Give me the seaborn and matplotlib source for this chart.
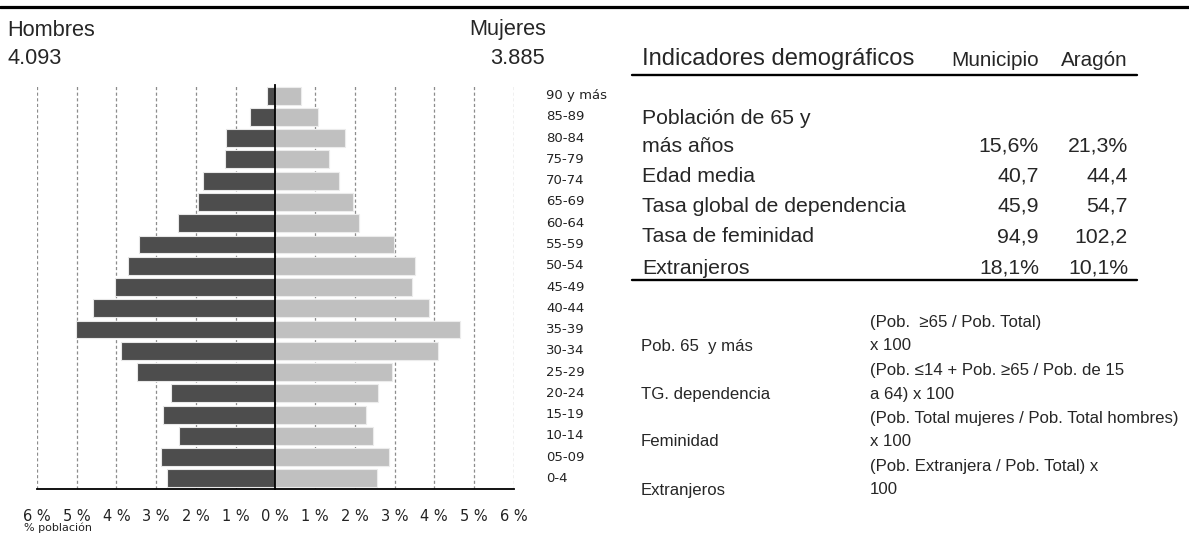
import numpy as np
import pandas as pd
import matplotlib
matplotlib.use("Agg")
import matplotlib.pyplot as plt
from matplotlib.lines import Line2D
import seaborn as sns

# ---------------- data ----------------
ages = ["90 y más", "85-89", "80-84", "75-79", "70-74", "65-69", "60-64", "55-59",
        "50-54", "45-49", "40-44", "35-39", "30-34", "25-29", "20-24", "15-19",
        "10-14", "05-09", "0-4"]
hombres_pct = [0.20, 0.65, 1.24, 1.28, 1.83, 1.94, 2.44, 3.42, 3.70, 4.04, 4.58,
               5.03, 3.88, 3.48, 2.62, 2.82, 2.42, 2.87, 2.73]
mujeres_pct = [0.65, 1.08, 1.75, 1.36, 1.59, 1.95, 2.11, 2.99, 3.52, 3.43, 3.88,
               4.66, 4.10, 2.94, 2.59, 2.28, 2.45, 2.87, 2.57]
x_ticks = [-6, -5, -4, -3, -2, -1, 0, 1, 2, 3, 4, 5, 6]
x_ticklabels = ["6 %", "5 %", "4 %", "3 %", "2 %", "1 %", "0 %", "1 %", "2 %",
                "3 %", "4 %", "5 %", "6 %"]
hombres_total = "4.093"
mujeres_total = "3.885"

table_title = "Indicadores demográficos"
table_cols = ["Municipio", "Aragón"]
ind_labels = ["Población de 65 y\nmás años", "Edad media", "Tasa global de dependencia",
              "Tasa de feminidad", "Extranjeros"]
ind_municipio = ["15,6%", "40,7", "45,9", "94,9", "18,1%"]
ind_aragon = ["21,3%", "44,4", "54,7", "102,2", "10,1%"]

def_labels = ["Pob. 65  y más", "TG. dependencia", "Feminidad", "Extranjeros"]
def_formulas = [("(Pob.  \u226565 / Pob. Total)", "x 100"),
                ("(Pob. \u226414 + Pob. \u226565 / Pob. de 15", "a 64) x 100"),
                ("(Pob. Total mujeres / Pob. Total hombres)", "x 100"),
                ("(Pob. Extranjera / Pob. Total) x", "100")]

# ---------------- style ----------------
sns.set_style("white")
plt.rcParams["font.family"] = ["Liberation Sans", "DejaVu Sans"]
small_font = ["DejaVu Sans"]

W, H = 1189, 533
fig = plt.figure(figsize=(W / 100, H / 100), dpi=100)
fig.patch.set_facecolor("white")

def fx(x):
    return x / W

def fy(y):
    return 1 - y / H

# pyramid axes
ax_l, ax_r, ax_t, ax_b = 37, 513.7, 85, 489
ax = fig.add_axes([fx(ax_l), fy(ax_b), (ax_r - ax_l) / W, (ax_b - ax_t) / H])

dark = "#4d4d4d"
light = "#c0c0c0"
df = pd.DataFrame({"edad": ages,
                   "hombres": [-v for v in hombres_pct],
                   "mujeres": mujeres_pct})
sns.barplot(data=df, x="hombres", y="edad", orient="h", color=dark, saturation=1,
            width=0.84, edgecolor="#e8e8e8", linewidth=0.8, ax=ax, zorder=2)
sns.barplot(data=df, x="mujeres", y="edad", orient="h", color=light, saturation=1,
            width=0.84, edgecolor="#ececec", linewidth=0.8, ax=ax, zorder=2)

ax.set_xlim(-6, 6)
ax.set_ylim(len(ages) - 0.5, -0.5)
ax.set_xlabel("")
ax.set_ylabel("")

ax.set_xticks(x_ticks)
ax.set_xticklabels(x_ticklabels, fontfamily=small_font, fontsize=10.5, color="#222222")
ax.tick_params(axis="x", direction="out", length=4, width=1, pad=10.5, color="black")
ax.set_yticks(np.arange(-0.5, len(ages), 0.5))
ax.set_yticklabels([])
ax.tick_params(axis="y", direction="out", length=3, width=1, color="black")

ax.xaxis.grid(True, linestyle=(0, (2.5, 2)), color="#8c8c8c", linewidth=0.9)
ax.yaxis.grid(False)
ax.set_axisbelow(True)

for s in ["top", "right"]:
    ax.spines[s].set_visible(False)
ax.spines["left"].set_position(("data", 0))
ax.spines["left"].set_color("black")
ax.spines["left"].set_linewidth(1.3)
ax.spines["left"].set_zorder(5)
ax.spines["bottom"].set_color("black")
ax.spines["bottom"].set_linewidth(1.3)

# age labels on the right
ytr = ax.get_yaxis_transform()
lab_x = (546 - ax_l) / (ax_r - ax_l)
for i, a in enumerate(ages):
    ax.text(lab_x, i, a, transform=ytr, ha="left", va="center",
            fontfamily=small_font, fontsize=9.5, color="#222222", clip_on=False)

fig.text(fx(24), fy(533), "% población", ha="left", va="bottom",
         fontfamily=small_font, fontsize=8, color="#222222")

# top rule
fig.add_artist(Line2D([0, 1], [fy(6.5), fy(6.5)], color="black", linewidth=2.3,
                      transform=fig.transFigure))

# headers
fs = 15.7
fig.text(fx(7), fy(30), "Hombres", ha="left", va="center", fontsize=fs)
fig.text(fx(7), fy(59), hombres_total, ha="left", va="center", fontsize=fs)
fig.text(fx(546), fy(30), "Mujeres", ha="right", va="center", fontsize=fs)
fig.text(fx(545), fy(59), mujeres_total, ha="right", va="center", fontsize=fs)

# indicator table
fsh = 17.1   # title
fst = 15.3   # rows
t_x0, t_x1 = 632, 1137
txt_x = 642
col1_r, col2_r = 1039, 1128
fig.text(fx(txt_x), fy(59), table_title, ha="left", va="center", fontsize=fsh)
fig.text(fx(col1_r), fy(60), table_cols[0], ha="right", va="center", fontsize=14.9)
fig.text(fx(col2_r), fy(60), table_cols[1], ha="right", va="center", fontsize=14.9)
fig.add_artist(Line2D([fx(t_x0), fx(t_x1)], [fy(74.5), fy(74.5)], color="black",
                      linewidth=1.7, transform=fig.transFigure))
row_y = [146, 176, 206, 237, 268]
for lab, m, a, y in zip(ind_labels, ind_municipio, ind_aragon, row_y):
    lines = lab.split("\n")
    for k, ln in enumerate(reversed(lines)):
        fig.text(fx(txt_x), fy(y - 27.5 * k), ln, ha="left", va="center", fontsize=fst)
    fig.text(fx(col1_r), fy(y), m, ha="right", va="center", fontsize=fst)
    fig.text(fx(col2_r), fy(y), a, ha="right", va="center", fontsize=fst)
fig.add_artist(Line2D([fx(t_x0), fx(t_x1)], [fy(280), fy(280)], color="black",
                      linewidth=1.7, transform=fig.transFigure))

# definitions block
d_lab_x, d_form_x = 641, 870
d_y0, d_step = 322, 24
fs2 = 12.1
for i, (lab, (l1, l2)) in enumerate(zip(def_labels, def_formulas)):
    y1 = d_y0 + d_step * (2 * i)
    y2 = d_y0 + d_step * (2 * i + 1)
    fig.text(fx(d_form_x), fy(y1), l1, ha="left", va="center", fontsize=fs2)
    fig.text(fx(d_form_x), fy(y2), l2, ha="left", va="center", fontsize=fs2)
    fig.text(fx(d_lab_x), fy(y2), lab, ha="left", va="center", fontsize=fs2)

fig.savefig("out.png", dpi=100, facecolor="white")
